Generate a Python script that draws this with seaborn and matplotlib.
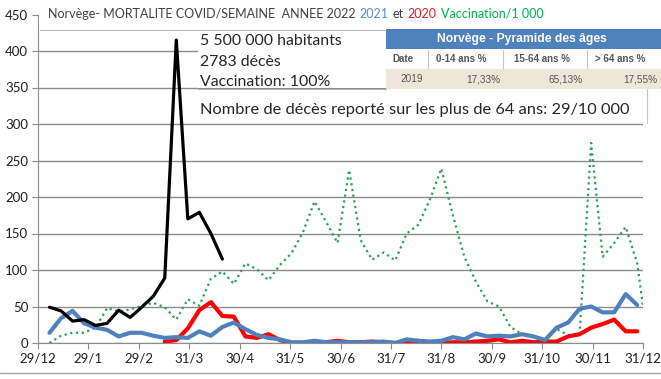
import numpy as np
import pandas as pd
import matplotlib
matplotlib.use("Agg")
import matplotlib.pyplot as plt
import seaborn as sns
from matplotlib.patches import Rectangle

nan = np.nan
weeks = list(range(1, 53))

deces_2022 = [49, 44, 30, 32, 24, 27, 45, 35, 49, 64, 89, 415, 170, 179, 150, 115] + [nan] * 36
deces_2021 = [14, 34, 44, 27, 21, 18, 9, 14, 14, 10, 7, 8, 7, 16, 10, 22, 28, 19, 11, 7,
              5, 1, 1, 3, 1, 1, 1, 1, 1, 2, 0, 5, 3, 2, 3, 8, 5, 13, 9, 10,
              9, 12, 9, 4, 21, 28, 47, 50, 42, 42, 67, 52]
deces_2020 = [nan] * 10 + [2, 4, 20, 45, 56, 37, 36, 9, 7, 12,
                           4, 0, 0, 1, 1, 3, 1, 1, 2, 1, 0, 0, 3, 0, 0, 1, 1, 2, 3, 5,
                           1, 3, 1, 2, 2, 9, 12, 21, 26, 32, 16, 16]
vacc_weeks = weeks + [52.5]
vaccination = [0, 10, 14, 14, 21, 48, 43, 46, 51, 55, 49, 32, 60, 51, 88, 98, 81, 109, 101, 86,
               107, 123, 152, 194, 166, 137, 237, 141, 114, 124, 113, 150, 162, 196, 239, 175, 118, 84, 57, 50,
               22, 12, 9, 4, 19, 11, 12, 274, 118, 137, 159, 109, 50]

tick_labels = ['29/12', '29/1', '29/2', '31/3', '30/4', '31/5', '30/6', '31/7',
               '31/8', '30/9', '31/10', '30/11', '31/12']

title_parts = ['Norvège- MORTALITE COVID/SEMAINE  ANNEE 2022', '2021', 'et', '2020', 'Vaccination/1 000']
title_colors = ['#404040', '#558ED5', '#404040', '#E02020', '#00B050']

infos = ['5 500 000 habitants', '2783 décès', 'Vaccination: 100%']
note = 'Nombre de décès reporté sur les plus de 64 ans: 29/10 000'

table_title = 'Norvège - Pyramide des âges'
table_cols = ['Date', '0-14 ans %', '15-64 ans %', '> 64 ans %']
table_vals = ['2019', '17,33%', '65,13%', '17,55%']

df = pd.DataFrame({'semaine': weeks, '2022': deces_2022, '2021': deces_2021, '2020': deces_2020})
df_vac = pd.DataFrame({'semaine': vacc_weeks, 'vaccination': vaccination})

sns.set_style("white")
plt.rcParams['font.family'] = ['Lato', 'DejaVu Sans']

W, H = 661, 379
fig = plt.figure(figsize=(W / 100, H / 100), dpi=100)
ax = fig.add_axes([38 / W, 1 - 343 / H, (643 - 38) / W, (343 - 14.5) / H])


def fx(px):
    return px / W


def fy(py):
    return 1 - py / H


def hline(x1, x2, y, color='#b4b4b4', lw=0.8):
    fig.add_artist(plt.Line2D([fx(x1), fx(x2)], [fy(y), fy(y)], transform=fig.transFigure,
                              color=color, lw=lw, zorder=3))


def vline(x, y1, y2, color='#c4c4c4', lw=0.8):
    fig.add_artist(plt.Line2D([fx(x), fx(x)], [fy(y1), fy(y2)], transform=fig.transFigure,
                              color=color, lw=lw, zorder=3))


def box(x1, y1, x2, y2, color, z=2):
    fig.add_artist(Rectangle((fx(x1), fy(y2)), (x2 - x1) / W, (y2 - y1) / H, transform=fig.transFigure,
                             facecolor=color, edgecolor='none', zorder=z))


green = '#2AA05A'
blue = '#4F81BD'
red = '#FF0000'

sns.lineplot(data=df_vac, x='semaine', y='vaccination', ax=ax, color=green, lw=1.6,
             linestyle=(0, (1, 1.6)))
sns.lineplot(data=df, x='semaine', y='2020', ax=ax, color=red, lw=3)
sns.lineplot(data=df, x='semaine', y='2021', ax=ax, color=blue, lw=3)
sns.lineplot(data=df, x='semaine', y='2022', ax=ax, color='black', lw=2.3)

ax.set_xlim(0, 52.5)
ax.set_ylim(0, 450)
ax.set_xticks(np.linspace(0, 52.5, 13))
ax.set_xticklabels(tick_labels)
ax.set_yticks(range(0, 451, 50))
ax.set_xlabel('')
ax.set_ylabel('')
ax.grid(axis='y', color='#8c8c8c', lw=1)
ax.set_axisbelow(True)
for s in ['top', 'right']:
    ax.spines[s].set_visible(False)
for s in ['left', 'bottom']:
    ax.spines[s].set_color('#8c8c8c')
ax.tick_params(axis='both', length=4, color='#8c8c8c', labelsize=9.5, labelcolor='#202020', pad=3,
               direction='out', bottom=True, left=True)

fig.canvas.draw()
renderer = fig.canvas.get_renderer()


def fit(t, width):
    # adjust the font size of a placed text until it has the wanted width in pixels
    for _ in range(4):
        w = t.get_window_extent(renderer=renderer).width
        t.set_fontsize(t.get_fontsize() * width / w)
    return t


# white areas covering part of the grid (title zone, text boxes)
box(39, 0, 661, 27, 'white', z=1)
box(198, 27, 386, 88, 'white', z=1)
box(198, 89, 647, 122, 'white', z=1)
hline(40, 386, 29.5)
hline(198, 386, 88.5)
vline(647, 89, 123)
hline(0, 661, 373, color='#a0a0a0', lw=1)

# title in several colours
first = fig.text(fx(48), fy(14), title_parts[0], color=title_colors[0], fontsize=9, va='center', zorder=3)
fit(first, 308)
title_size = first.get_fontsize()
x0 = first.get_window_extent(renderer=renderer).x1 + 4
for txt, col in zip(title_parts[1:], title_colors[1:]):
    t = fig.text(fx(x0), fy(14), txt, color=col, fontsize=title_size, va='center', zorder=3)
    x0 = t.get_window_extent(renderer=renderer).x1 + 4

# info text
top = fig.text(fx(200), fy(41), infos[0], fontsize=12, va='center', zorder=3)
fit(top, 142)
for i, s in enumerate(infos[1:], start=1):
    fig.text(fx(200), fy(41 + 20.5 * i), s, fontsize=top.get_fontsize(), va='center', zorder=3)
fit(fig.text(fx(200), fy(110), note, fontsize=12, va='center', zorder=3), 428)

# table
box(386, 29, 661, 49, '#4F81BD')
box(386, 49, 661, 69, 'white')
box(386, 69, 661, 89, '#EEE6D8')
head_kw = dict(fontweight='bold', family=['Liberation Sans'])
fit(fig.text(fx(522), fy(39), table_title, fontsize=9, color='white', ha='center', va='center',
             zorder=3, **head_kw), 169)
col_centers = [403, 461, 542, 620]
for xc, s in zip(col_centers, table_cols):
    fig.text(fx(xc), fy(59), s, fontsize=7, color='#555555', ha='center', va='center', zorder=3, **head_kw)
for xs in [428, 503, 587]:
    vline(xs, 50, 68)
val_right = [423, 500, 583, 657]
for xr, s in zip(val_right, table_vals):
    fig.text(fx(xr), fy(79), s, fontsize=7.2, color='#555555', ha='right', va='center',
             zorder=3, family=['Liberation Sans'])

fig.savefig('out.png', dpi=100)
